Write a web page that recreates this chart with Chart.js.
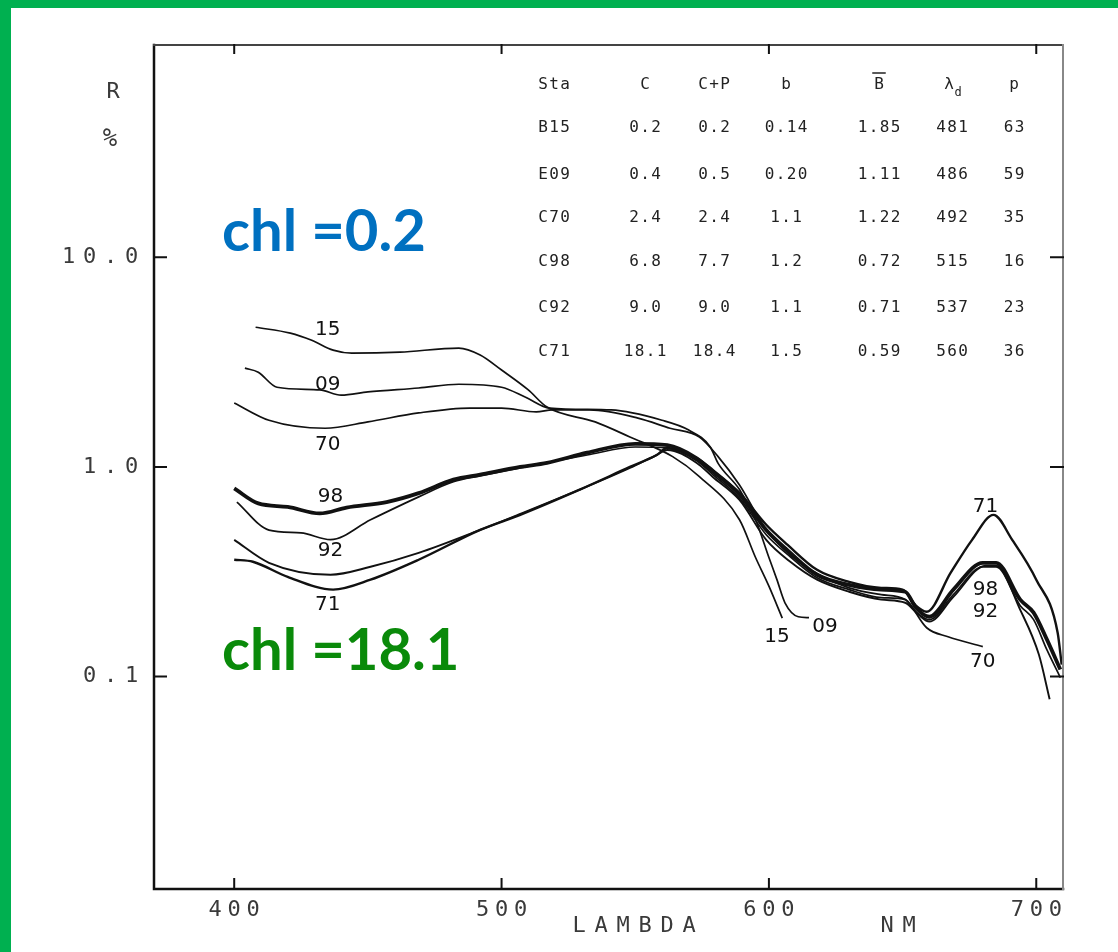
<!DOCTYPE html>
<html>
<head>
<meta charset="utf-8">
<script src="https://cdn.jsdelivr.net/npm/chart.js@4.4.1/dist/chart.umd.min.js"></script>
<style>
  html, body { margin: 0; padding: 0; background: #fff; }
  canvas { display: block; }
</style>
</head>
<body>
<canvas id="grafico" width="1118" height="952"></canvas>
<script>
/* ======================================================
   DADOS (lambda em nm, R em %)
====================================================== */
const wl15 = [408, 421, 429, 437, 444, 462, 484, 492, 500, 510, 517, 535, 548, 564, 574, 589, 595, 600, 605];
const r15  = [4.64, 4.35, 4.02, 3.61, 3.49, 3.53, 3.69, 3.42, 2.90, 2.33, 1.93, 1.64, 1.39, 1.12, 0.90, 0.56, 0.37, 0.27, 0.19];

const wl09 = [404, 409, 416, 432, 440, 450, 469, 484, 500, 509, 518, 541, 560, 570, 578, 581, 589, 595, 600, 603, 606, 611, 615];
const r09  = [2.96, 2.83, 2.40, 2.33, 2.20, 2.28, 2.38, 2.48, 2.40, 2.15, 1.91, 1.87, 1.67, 1.50, 1.25, 1.04, 0.78, 0.56, 0.37, 0.29, 0.225, 0.193, 0.191];

const wl70 = [400, 413, 434, 450, 469, 488, 500, 513, 519, 533, 551, 563, 574, 581, 589, 599, 608, 618, 630, 642, 651, 659, 667, 680];
const r70  = [2.02, 1.67, 1.53, 1.64, 1.81, 1.91, 1.91, 1.83, 1.87, 1.87, 1.71, 1.53, 1.39, 1.12, 0.82, 0.50, 0.38, 0.31, 0.265, 0.246, 0.233, 0.171, 0.155, 0.139];

const wl98 = [400, 409, 420, 432, 442, 457, 469, 482, 492, 507, 517, 532, 550, 562, 573, 579, 589, 599, 607, 618, 630, 642, 651, 655, 660, 669, 680, 685, 694, 699, 704, 709];
const r98  = [0.79, 0.67, 0.645, 0.60, 0.64, 0.68, 0.75, 0.87, 0.92, 1.0, 1.045, 1.17, 1.29, 1.27, 1.10, 0.95, 0.74, 0.50, 0.40, 0.306, 0.274, 0.26, 0.254, 0.213, 0.193, 0.26, 0.349, 0.349, 0.233, 0.202, 0.150, 0.108];

const wl92 = [401, 413, 425, 436, 451, 469, 482, 492, 507, 532, 550, 562, 573, 579, 589, 599, 608, 618, 630, 642, 651, 655, 660, 669, 680, 685, 694, 699, 704, 709];
const r92  = [0.68, 0.50, 0.485, 0.45, 0.56, 0.72, 0.85, 0.906, 0.99, 1.14, 1.245, 1.23, 1.07, 0.92, 0.71, 0.475, 0.373, 0.296, 0.26, 0.238, 0.233, 0.204, 0.187, 0.246, 0.334, 0.334, 0.218, 0.187, 0.134, 0.099];

// curva sem rotulo (entre 92 e 71)
const wlXX = [400, 413, 436, 451, 469, 492, 507, 529, 548, 558, 562, 573, 579, 589, 599, 608, 618, 630, 642, 651, 656, 660, 669, 681, 685, 694, 701, 705];
const rXX  = [0.449, 0.349, 0.306, 0.334, 0.389, 0.501, 0.597, 0.777, 0.989, 1.14, 1.205, 1.045, 0.896, 0.696, 0.449, 0.353, 0.29, 0.254, 0.233, 0.225, 0.197, 0.183, 0.24, 0.338, 0.338, 0.208, 0.127, 0.078];

const wl71 = [400, 407, 420, 437, 451, 469, 492, 507, 529, 548, 558, 562, 573, 579, 589, 599, 607, 618, 630, 642, 650, 655, 659, 668, 676, 684, 691, 700, 708, 709.5];
const r71  = [0.361, 0.353, 0.299, 0.260, 0.290, 0.361, 0.501, 0.591, 0.777, 1.0, 1.14, 1.232, 1.104, 0.968, 0.752, 0.530, 0.425, 0.323, 0.283, 0.265, 0.260, 0.218, 0.204, 0.313, 0.449, 0.591, 0.449, 0.290, 0.162, 0.114];

// rotulos das curvas (posicao em lambda / R)
const rotulos   = ["15", "09", "70", "98", "92", "71", "15", "09", "70", "71", "98", "92"];
const rotuloWl  = [435, 435, 435, 436, 436, 435, 603, 621, 680, 681, 681, 681];
const rotuloR   = [4.49, 2.46, 1.27, 0.72, 0.40, 0.22, 0.155, 0.173, 0.118, 0.645, 0.26, 0.204];

// eixos
const xTicks = [400, 500, 600, 700];
const xTickLabels = ["400", "500", "600", "700"];
const yTicks = [10, 1, 0.1];
const yTickLabels = ["10.0", "1.0", "0.1"];

// tabela
const tabCabecalho = ["Sta", "C", "C+P", "b", "B", "λd", "p"];
const tabSta  = ["B15", "E09", "C70", "C98", "C92", "C71"];
const tabC    = ["0.2", "0.4", "2.4", "6.8", "9.0", "18.1"];
const tabCP   = ["0.2", "0.5", "2.4", "7.7", "9.0", "18.4"];
const tabB    = ["0.14", "0.20", "1.1", "1.2", "1.1", "1.5"];
const tabBbar = ["1.85", "1.11", "1.22", "0.72", "0.71", "0.59"];
const tabLd   = ["481", "486", "492", "515", "537", "560"];
const tabP    = ["63", "59", "35", "16", "23", "36"];

/* ======================================================
   UTIL
====================================================== */
function pontos(wl, r) {
  return wl.map((x, i) => ({ x: x, y: r[i] }));
}

function serie(nome, wl, r, largura) {
  return {
    label: nome,
    data: pontos(wl, r),
    borderColor: "#111",
    borderWidth: largura,
    pointRadius: 0,
    fill: false,
    cubicInterpolationMode: "monotone"
  };
}

// texto estilo plotter: cada caractere com passo fixo
function plotText(ctx, str, x, y, passo, align) {
  const total = str.length * passo;
  let x0 = x;
  if (align === "right") x0 = x - total;
  else if (align === "center") x0 = x - total / 2;
  ctx.textAlign = "center";
  for (let i = 0; i < str.length; i++) {
    ctx.fillText(str[i], x0 + passo * (i + 0.5), y);
  }
}

/* ======================================================
   PLUGIN DE DESENHO (moldura, eixos, textos)
====================================================== */
const desenho = {
  id: "desenho",
  beforeDraw(chart) {
    const ctx = chart.ctx;
    ctx.save();
    ctx.fillStyle = "#fff";
    ctx.fillRect(0, 0, chart.width, chart.height);
    ctx.fillStyle = "#00B050";
    ctx.fillRect(0, 0, chart.width, 8);
    ctx.fillRect(0, 0, 11, chart.height);
    ctx.restore();
  },
  afterDraw(chart) {
    const ctx = chart.ctx;
    const a = chart.chartArea;
    const sx = chart.scales.x, sy = chart.scales.y;
    ctx.save();

    // caixa
    ctx.lineCap = "square";
    ctx.strokeStyle = "#111";
    ctx.lineWidth = 2.5;
    ctx.beginPath();
    ctx.moveTo(a.left, a.top); ctx.lineTo(a.left, a.bottom); ctx.lineTo(a.right, a.bottom);
    ctx.stroke();
    ctx.strokeStyle = "#444";
    ctx.lineWidth = 2;
    ctx.beginPath();
    ctx.moveTo(a.left, a.top); ctx.lineTo(a.right, a.top);
    ctx.stroke();
    ctx.strokeStyle = "#888";
    ctx.beginPath();
    ctx.moveTo(a.right, a.top); ctx.lineTo(a.right, a.bottom);
    ctx.stroke();

    // marcas
    ctx.strokeStyle = "#111";
    ctx.lineWidth = 2;
    xTicks.forEach(v => {
      const px = sx.getPixelForValue(v);
      ctx.beginPath();
      ctx.moveTo(px, a.bottom); ctx.lineTo(px, a.bottom - 10);
      ctx.moveTo(px, a.top); ctx.lineTo(px, a.top + 8);
      ctx.stroke();
    });
    yTicks.forEach(v => {
      const py = sy.getPixelForValue(v);
      ctx.beginPath();
      ctx.moveTo(a.left, py); ctx.lineTo(a.left + 12, py);
      ctx.moveTo(a.right, py); ctx.lineTo(a.right - 12, py);
      ctx.stroke();
    });

    // rotulos dos eixos
    ctx.fillStyle = "#3a3a3a";
    ctx.font = '22px "DejaVu Sans Mono"';
    ctx.textBaseline = "middle";
    yTicks.forEach((v, i) => {
      plotText(ctx, yTickLabels[i], 142, sy.getPixelForValue(v), 21, "right");
    });
    xTicks.forEach((v, i) => {
      plotText(ctx, xTickLabels[i], sx.getPixelForValue(v), 910, 19, "center");
    });
    plotText(ctx, "R", 113, 92, 20, "center");
    ctx.font = '24px "DejaVu Sans Mono"';
    plotText(ctx, "%", 110, 140, 20, "center");
    ctx.font = '22px "DejaVu Sans Mono"';
    plotText(ctx, "LAMBDA", 634, 926, 22, "center");
    plotText(ctx, "NM", 898, 926, 22, "center");

    // tabela
    const colX = [554, 645, 714, 786, 879, 952, 1014];
    const rowY = [85, 128, 175, 218, 262, 308, 352];
    const fonteTab = '16px "DejaVu Sans Mono"';
    ctx.font = fonteTab;
    ctx.fillStyle = "#222";
    tabCabecalho.forEach((t, j) => {
      if (t === "λd") {
        plotText(ctx, "λ", colX[j] - 3, rowY[0], 11, "center");
        ctx.font = '12px "DejaVu Sans Mono"';
        plotText(ctx, "d", colX[j] + 6, rowY[0] + 8, 8, "center");
        ctx.font = fonteTab;
      } else {
        plotText(ctx, t, colX[j], rowY[0], 11, "center");
      }
      if (t === "B") {
        ctx.lineWidth = 1.5;
        ctx.strokeStyle = "#222";
        ctx.beginPath();
        ctx.moveTo(colX[j] - 6, rowY[0] - 12);
        ctx.lineTo(colX[j] + 6, rowY[0] - 12);
        ctx.stroke();
      }
    });
    const colunas = [tabSta, tabC, tabCP, tabB, tabBbar, tabLd, tabP];
    colunas.forEach((col, j) => {
      col.forEach((t, i) => {
        plotText(ctx, t, colX[j], rowY[i + 1], 11, "center");
      });
    });

    // rotulos das curvas
    ctx.fillStyle = "#111";
    ctx.font = '20px "DejaVu Sans"';
    ctx.textAlign = "center";
    rotulos.forEach((t, i) => {
      ctx.fillText(t, sx.getPixelForValue(rotuloWl[i]), sy.getPixelForValue(rotuloR[i]));
    });

    // anotacoes chl
    ctx.textAlign = "left";
    ctx.textBaseline = "alphabetic";
    ctx.font = 'bold 58px Lato';
    ctx.fillStyle = "#0070C0";
    ctx.fillText("chl =0.2", 222, 251);
    ctx.fillStyle = "#0A8A0A";
    ctx.fillText("chl =18.1", 222, 670);

    ctx.restore();
  }
};

/* ======================================================
   GRAFICO
====================================================== */
new Chart(document.getElementById("grafico"), {
  type: "line",
  data: {
    datasets: [
      serie("15", wl15, r15, 1.7),
      serie("09", wl09, r09, 1.7),
      serie("70", wl70, r70, 1.7),
      serie("98", wl98, r98, 3.8),
      serie("92", wl92, r92, 1.7),
      serie("", wlXX, rXX, 1.9),
      serie("71", wl71, r71, 2.4)
    ]
  },
  options: {
    responsive: false,
    animation: false,
    layout: { padding: { left: 154, top: 45, right: 55, bottom: 63 } },
    plugins: { legend: { display: false }, tooltip: { enabled: false } },
    scales: {
      x: { type: "linear", min: 370, max: 710, display: false },
      y: { type: "logarithmic", min: 0.0097, max: 103, display: false }
    }
  },
  plugins: [desenho]
});
</script>
</body>
</html>
